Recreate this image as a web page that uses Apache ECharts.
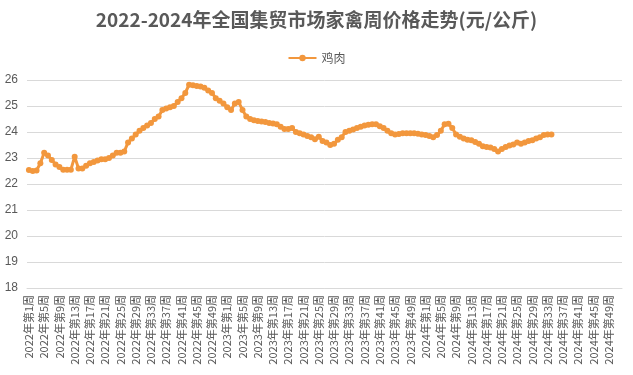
<!DOCTYPE html>
<html><head><meta charset="utf-8">
<script src="https://cdn.jsdelivr.net/npm/echarts@6/dist/echarts.min.js"></script>
<style>html,body{margin:0;padding:0;background:#fff}#c{width:633px;height:375px}</style>
</head><body><div id="c"></div>
<script>
const title = '2022-2024年全国集贸市场家禽周价格走势(元/公斤)';
const seriesName = '鸡肉';
const years = [2022, 2023, 2024];
const weeksPerYear = 52;
const yTicks = [18, 19, 20, 21, 22, 23, 24, 25, 26];
const chicken2022 = [22.54,22.5,22.52,22.8,23.2,23.1,22.92,22.75,22.65,22.55,22.55,22.55,23.05,22.6,22.6,22.7,22.8,22.85,22.9,22.95,22.95,23.0,23.1,23.2,23.2,23.25,23.6,23.75,23.9,24.05,24.15,24.25,24.35,24.5,24.6,24.85,24.9,24.95,25.0,25.15,25.3,25.5,25.82,25.8,25.77,25.75,25.7,25.6,25.5,25.3,25.2,25.1];
const chicken2023 = [24.95,24.85,25.1,25.15,24.85,24.6,24.5,24.45,24.42,24.4,24.38,24.35,24.33,24.3,24.2,24.12,24.12,24.15,24.0,23.95,23.9,23.85,23.8,23.72,23.82,23.65,23.6,23.5,23.55,23.7,23.8,24.0,24.05,24.1,24.15,24.2,24.25,24.28,24.3,24.3,24.22,24.15,24.05,23.95,23.9,23.92,23.95,23.95,23.95,23.95,23.93,23.9];
const chicken2024 = [23.88,23.85,23.8,23.88,24.05,24.3,24.32,24.15,23.9,23.82,23.75,23.7,23.68,23.62,23.55,23.45,23.42,23.4,23.35,23.25,23.35,23.42,23.48,23.52,23.6,23.55,23.6,23.65,23.68,23.75,23.8,23.88,23.9,23.9];

const categories = [];
years.forEach(y => { for (let w = 1; w <= weeksPerYear; w++) categories.push(y + '年第' + w + '周'); });
const values = chicken2022.concat(chicken2023, chicken2024);
while (values.length < categories.length) values.push(null);

const color = '#F2973D';
const txt = '#595959';
const chart = echarts.init(document.getElementById('c'));
chart.setOption({
  animation: false,
  title: { text: title, left: 'center', top: 5, textStyle: { fontFamily: 'Noto Sans CJK SC', fontWeight: 'bold', fontSize: 19, color: txt } },
  legend: { top: 47, left: 'center', itemWidth: 28, itemHeight: 8, textStyle: { fontFamily: 'Noto Sans CJK SC', fontSize: 12, color: txt }, data: [seriesName] },
  grid: { left: 27, right: 11, top: 80, bottom: 87, containLabel: false },
  xAxis: {
    type: 'category', data: categories, boundaryGap: true,
    axisLine: { show: true, lineStyle: { color: '#d9d9d9' } },
    axisTick: { show: false },
    axisLabel: { interval: 3, rotate: 90, fontSize: 11, color: txt, fontFamily: 'Noto Sans CJK SC', margin: 7 }
  },
  yAxis: {
    type: 'value', min: yTicks[0], max: yTicks[yTicks.length - 1], interval: 1,
    axisLine: { show: false }, axisTick: { show: false },
    axisLabel: { fontSize: 12, color: txt, fontFamily: 'Liberation Sans', margin: 9 },
    splitLine: { lineStyle: { color: '#d9d9d9' } }
  },
  series: [{
    name: seriesName, type: 'line', data: values, symbol: 'circle', symbolSize: 6,
    showAllSymbol: true, connectNulls: false,
    lineStyle: { color: color, width: 3 }, itemStyle: { color: color }
  }]
});
</script></body></html>
